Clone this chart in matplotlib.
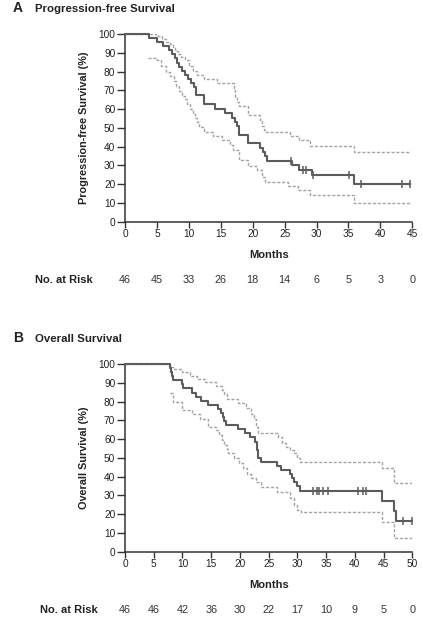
import numpy as np
import matplotlib
matplotlib.use("Agg")
import matplotlib.pyplot as plt
from matplotlib.transforms import blended_transform_factory

plt.rcParams['font.family'] = ['Liberation Sans', 'DejaVu Sans']

# ---------------- Panel A: Progression-free survival ----------------
pfs_time = [0, 3.8, 5.0, 5.9, 6.9, 7.4, 7.8, 8.1, 8.5, 8.9, 9.4, 9.9, 10.4, 10.8, 11.1, 12.3,
            14.1, 15.7, 16.7, 17.2, 17.6, 17.9, 19.3, 21.2, 21.6, 21.9, 22.2, 26.2, 27.2, 29.3, 35.9]
pfs_surv = [100, 97.8, 95.7, 93.5, 91.3, 89.1, 87.0, 84.8, 82.6, 80.4, 78.3, 76.1, 73.9, 71.7, 67.4, 62.5,
            60.2, 57.7, 55.4, 53.2, 51.0, 46.4, 42.0, 39.3, 37.0, 34.8, 32.6, 30.4, 27.7, 25.0, 20.0]
pfs_end = 44.7
pfs_censor = [26.0, 27.9, 28.4, 29.4, 35.1, 36.9, 43.4, 44.6]

pfs_up_time = [0, 4.8, 5.8, 6.5, 7.0, 7.5, 7.8, 8.3, 8.8, 9.4, 10.0, 10.7, 11.3, 12.3, 14.4, 17.0,
               17.3, 17.6, 17.8, 19.3, 21.2, 21.5, 21.8, 22.0, 25.9, 27.2, 29.0, 35.8]
pfs_up_surv = [100, 99.0, 97.5, 96.0, 94.8, 93.0, 91.0, 89.4, 87.7, 85.9, 83.2, 80.5, 78.0, 75.9, 74.1, 70.0,
               66.5, 64.0, 61.6, 57.1, 54.0, 51.0, 49.0, 47.9, 45.9, 43.4, 40.3, 37.2]
pfs_lo_time = [3.6, 5.0, 5.7, 6.5, 7.1, 7.6, 8.0, 8.5, 8.9, 9.4, 9.7, 10.2, 10.7, 11.0, 11.2, 11.6,
               12.3, 13.8, 15.2, 16.5, 16.9, 17.8, 19.3, 20.7, 21.5, 22.0, 25.6, 27.1, 29.0, 35.8]
pfs_lo_surv = [87.1, 85.9, 83.2, 79.6, 77.5, 75.2, 72.5, 69.8, 67.2, 65.3, 62.7, 60.0, 57.7, 55.5, 52.9, 50.5,
               47.9, 45.9, 43.4, 41.0, 38.4, 33.0, 29.5, 27.7, 24.0, 21.1, 19.1, 17.0, 14.3, 10.2]
pfs_ticks = [0, 5, 10, 15, 20, 25, 30, 35, 40, 45]
pfs_at_risk = [46, 45, 33, 26, 18, 14, 6, 5, 3, 0]

# ---------------- Panel B: Overall survival ----------------
os_time = [0, 7.8, 8.0, 8.2, 8.4, 10.0, 10.1, 11.6, 12.4, 13.3, 14.5, 16.2, 16.7, 17.0, 17.3, 17.5,
           19.7, 20.9, 21.7, 22.6, 22.9, 23.0, 23.1, 23.2, 23.7, 26.4, 27.1, 28.7, 29.0, 29.4, 29.9,
           30.5, 44.7, 46.9, 47.2]
os_surv = [100, 97.8, 95.7, 93.5, 91.3, 89.1, 87.0, 84.8, 82.6, 80.4, 78.3, 76.1, 73.9, 71.7, 69.6, 67.4,
           65.2, 63.0, 60.9, 58.7, 56.5, 54.3, 52.2, 50.0, 47.8, 45.7, 43.5, 41.3, 39.1, 37.0, 34.8,
           32.6, 27.2, 21.7, 16.3]
os_end = 50.0
os_censor = [32.7, 33.4, 33.8, 34.4, 35.4, 40.5, 41.5, 42.0, 48.4, 50.0]

os_up_time = [0, 7.8, 8.3, 9.9, 11.3, 12.6, 13.9, 15.9, 16.8, 17.3, 17.8, 19.7, 21.0, 22.0, 22.4, 22.8,
              23.2, 26.7, 27.3, 28.0, 28.8, 29.4, 30.0, 30.4, 44.7, 46.9]
os_up_surv = [100, 98.2, 97.3, 95.5, 93.8, 92.0, 90.2, 88.4, 86.0, 84.0, 81.3, 79.1, 76.8, 73.5, 70.5, 66.5,
              63.1, 61.0, 58.0, 56.0, 54.0, 52.5, 50.0, 47.9, 44.7, 36.6]
os_lo_time = [7.8, 8.3, 9.9, 11.6, 13.1, 14.4, 15.9, 16.4, 16.8, 17.2, 17.7, 18.0, 19.0, 19.8, 20.5, 21.2,
              22.0, 22.8, 23.6, 26.4, 28.8, 29.4, 29.9, 30.6, 44.7, 46.9]
os_lo_surv = [84.6, 79.8, 75.4, 73.6, 70.9, 66.5, 64.7, 62.0, 59.4, 57.0, 54.5, 52.7, 50.0, 47.0, 44.5, 41.5,
              39.0, 37.0, 34.3, 31.7, 28.5, 25.0, 22.3, 21.1, 15.7, 7.1]
os_ticks = [0, 5, 10, 15, 20, 25, 30, 35, 40, 45, 50]
os_at_risk = [46, 46, 42, 36, 30, 22, 17, 10, 9, 5, 0]

y_ticks = [0, 10, 20, 30, 40, 50, 60, 70, 80, 90, 100]

MAIN_C = '#5c5c5c'
CI_C = '#a3a3a3'
AX_C = '#333333'
TXT_C = '#222222'

W, H = 423, 629
fig = plt.figure(figsize=(W / 100, H / 100), dpi=100)


def step_xy(t, s, end):
    x = list(t) + [end]
    y = list(s) + [s[-1]]
    return x, y


def draw_panel(ax, t, s, end, cens, ut, us, lt, ls, xticks, at_risk, ylabel):
    x, y = step_xy(ut, us, end)
    ax.step(x, y, where='post', color=CI_C, lw=1.0, dashes=(2.2, 1.3), zorder=2)
    x, y = step_xy(lt, ls, end)
    ax.step(x, y, where='post', color=CI_C, lw=1.0, dashes=(2.2, 1.3), zorder=2)
    x, y = step_xy(t, s, end)
    ax.step(x, y, where='post', color=MAIN_C, lw=1.5, zorder=3, clip_on=False)
    idx = np.searchsorted(np.array(t), np.array(cens), side='right') - 1
    cy = np.array(s)[idx]
    ax.plot(cens, cy, ls='none', marker='|', ms=6, mew=1.1, color=MAIN_C, zorder=4, clip_on=False)

    ax.set_xlim(xticks[0], xticks[-1])
    ax.set_ylim(0, 100)
    ax.set_xticks(xticks)
    ax.set_yticks(y_ticks)
    for sp in ['top', 'right']:
        ax.spines[sp].set_visible(False)
    for sp in ['left', 'bottom']:
        ax.spines[sp].set_color(AX_C)
        ax.spines[sp].set_linewidth(1.1)
    ax.tick_params(axis='y', length=5.5, width=1.0, color=AX_C, labelsize=7.3,
                   labelcolor=TXT_C, pad=1.5)
    ax.tick_params(axis='x', length=4, width=1.0, color=AX_C, labelsize=7.3,
                   labelcolor=TXT_C, pad=1.5)
    ax.text(-0.143, 0.5, ylabel, transform=ax.transAxes, rotation=90, ha='center',
            va='center', fontsize=7.8, fontweight='bold', color=TXT_C)
    ax.text(0.5, -0.177, 'Months', transform=ax.transAxes, ha='center', va='center',
            fontsize=8, fontweight='bold', color=TXT_C)
    tr = ax.get_xaxis_transform()
    ypos = -0.312
    for xv, n in zip(xticks, at_risk):
        ax.text(xv, ypos, str(n), transform=tr, ha='center', va='center',
                fontsize=7.8, color='#333333')
    tr2 = blended_transform_factory(fig.transFigure, ax.transAxes)
    return tr2, ypos


# Panel A
axA = fig.add_axes([125 / W, 1 - 221.7 / H, 287.3 / W, 187.7 / H])
tr2, yp = draw_panel(axA, pfs_time, pfs_surv, pfs_end, pfs_censor, pfs_up_time, pfs_up_surv,
                     pfs_lo_time, pfs_lo_surv, pfs_ticks, pfs_at_risk,
                     'Progression-free Survival (%)')
axA.text(35 / W, yp, 'No. at Risk', transform=tr2, ha='left', va='center',
         fontsize=8, fontweight='bold', color=TXT_C)

# Panel B
axB = fig.add_axes([125 / W, 1 - 551.7 / H, 287.3 / W, 187.7 / H])
tr2, yp = draw_panel(axB, os_time, os_surv, os_end, os_censor, os_up_time, os_up_surv,
                     os_lo_time, os_lo_surv, os_ticks, os_at_risk,
                     'Overall Survival (%)')
axB.text(40 / W, yp, 'No. at Risk', transform=tr2, ha='left', va='center',
         fontsize=8, fontweight='bold', color=TXT_C)

# Panel headings
fig.text(13 / W, 1 - 8.5 / H, 'A', ha='left', va='center', fontsize=10, fontweight='bold', color=TXT_C)
fig.text(35 / W, 1 - 8.5 / H, 'Progression-free Survival', ha='left', va='center',
         fontsize=8.2, fontweight='bold', color=TXT_C)
fig.text(13 / W, 1 - 338.5 / H, 'B', ha='left', va='center', fontsize=10, fontweight='bold', color=TXT_C)
fig.text(35 / W, 1 - 338.5 / H, 'Overall Survival', ha='left', va='center',
         fontsize=8.2, fontweight='bold', color=TXT_C)

fig.savefig('out.png', dpi=100, facecolor='white')
